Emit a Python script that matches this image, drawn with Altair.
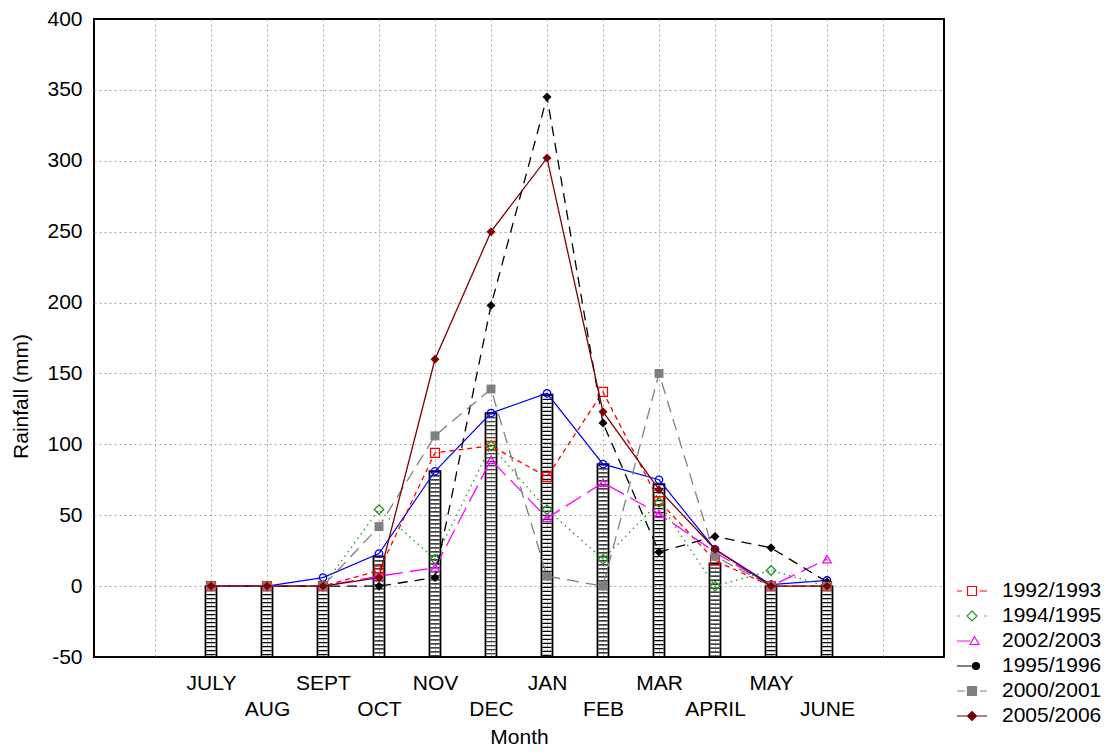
import altair as alt
import pandas as pd

# ---- data ----
months = ["JULY", "AUG", "SEPT", "OCT", "NOV", "DEC", "JAN", "FEB", "MAR", "APRIL", "MAY", "JUNE"]
bar_rain = [0, 0, 0, 21, 81, 122, 135, 86, 72, 16, 0, 0]
mean_rain = [0, 0, 6, 23, 81, 122, 136, 86, 75, 26, 1, 4]
rain_1992_1993 = [0, 0, 0, 11, 94, 99, 77, 137, 60, 18, 0, 0]
rain_1994_1995 = [0, 0, 0, 54, 19, 99, 54, 19, 59, 0, 11, 0]
rain_2002_2003 = [0, 0, 0, 7, 13, 89, 48, 73, 51, 24, 0, 19]
rain_1995_1996 = [0, 0, 0, 0, 6, 198, 345, 115, 24, 35, 27, 3]
rain_2000_2001 = [0, 0, 0, 42, 106, 139, 7, 0, 150, 21, 0, 0]
rain_2005_2006 = [0, 0, 0, 6, 160, 250, 302, 123, 68, 26, 0, 0]
seasons = ["1992/1993", "1994/1995", "2002/2003", "1995/1996", "2000/2001", "2005/2006"]
season_values = [rain_1992_1993, rain_1994_1995, rain_2002_2003,
                 rain_1995_1996, rain_2000_2001, rain_2005_2006]

# ---- styles ----
FONT = "Liberation Sans"
colors = ["#ff0000", "#1a9a1a", "#ff00ff", "#000000", "#808080", "#800000"]
dashes = [[5, 4], [1.5, 4], [18, 7], [10, 7], [12, 7], None]
shapes = ["square", "diamond", "triangle-up", "diamond", "square", "diamond"]
filled = [False, False, False, True, True, True]
sizes = [80, 90, 70, 80, 80, 80]
legend_paths = [
    "M-1.5,0H-1.0M0.8,0H1.5M-0.45,-0.45H0.45V0.45H-0.45Z",
    "M-1.45,0H-1.25M1.25,0H1.45M0,-0.5L0.5,0L0,0.5L-0.5,0Z",
    "M-1.5,0H-0.2M0.25,-0.45L0.7,0.35L-0.2,0.35Z",
    "M-1.5,0H0.05M0.75,0A0.35,0.35,0,1,1,0.05,0A0.35,0.35,0,1,1,0.75,0Z",
    "M-1.5,0H-0.7M0.8,0H1.5M-0.45,-0.45H0.45V0.45H-0.45Z",
    "M-1.5,0H1.5M0,-0.45L0.45,0L0,0.45L-0.45,0Z",
]
legend_fills = ["transparent", "transparent", "transparent", "#000000", "#808080", "#800000"]

positions = list(range(2, 2 + len(months)))
bar_df = pd.DataFrame({"month": months, "pos": positions, "rain": bar_rain})
mean_df = pd.DataFrame({"month": months, "pos": positions, "rain": mean_rain})
rows = []
for s, vals in zip(seasons, season_values):
    for m, p, v in zip(months, positions, vals):
        rows.append({"season": s, "month": m, "pos": p, "rain": v})
season_df = pd.DataFrame(rows)
legend_df = pd.DataFrame({"season": seasons})

label_list = ["", ""] + months + ["", ""]
arr = "[" + ",".join("'" + m + "'" for m in label_list) + "]"
label_expr = f"datum.value % 2 == 0 ? {arr}[datum.value] : [' ', {arr}[datum.value]]"

grid_kw = dict(grid=True, gridDash=[2, 3], gridColor="#a9a9a9", gridWidth=1)

x_axis = alt.Axis(values=list(range(1, 15)), labelExpr=label_expr, labelOverlap=False,
                  labelFlush=False, labelFont=FONT, labelFontSize=21, labelColor="black",
                  labelLineHeight=26, labelPadding=15, ticks=False, tickSize=0, domain=False,
                  title="Month", titleFont=FONT, titleFontSize=21, titleFontWeight="normal",
                  titleColor="black", titleY=69, titleBaseline="top", **grid_kw)
y_axis = alt.Axis(values=list(range(-50, 401, 50)), labelExpr="toString(datum.value)",
                  labelFont=FONT, labelFontSize=21,
                  labelColor="black", labelPadding=12, ticks=False, tickSize=0, domain=False,
                  title="Rainfall (mm)", titleFont=FONT, titleFontSize=21,
                  titleFontWeight="normal", titleColor="black", titleX=-63, titleY=377,
                  titleAngle=270, titleBaseline="bottom", titleAlign="center",
                  gridOpacity={"condition": {"test": "datum.value == -50 || datum.value == 400",
                                             "value": 0}, "value": 1},
                  **grid_kw)

X = alt.X("pos:Q", scale=alt.Scale(domain=[0, 15], nice=False, zero=False), axis=x_axis)
Y = alt.Y("rain:Q", scale=alt.Scale(domain=[-50, 400], nice=False), axis=y_axis)

hatch = alt.Chart(bar_df).mark_rule(color="black", strokeWidth=9, strokeDash=[1.2, 2.8]).encode(
    x=X, y=Y, y2=alt.datum(-50))
bars = alt.Chart(bar_df).mark_bar(width=11, fillOpacity=0, stroke="black", strokeWidth=1.8).encode(
    x=X, y=Y, y2=alt.datum(-50))

mean_line = alt.Chart(mean_df).mark_line(color="#0000ff", strokeWidth=1.2).encode(x=X, y=Y)
mean_pts = alt.Chart(mean_df).mark_point(shape="circle", color="#0000ff", size=55,
                                         strokeWidth=1.3, filled=False, opacity=1).encode(x=X, y=Y)

layers = [hatch, bars, mean_line, mean_pts]
for i, s in enumerate(seasons):
    line_kw = dict(color=colors[i], strokeWidth=1.3)
    if dashes[i] is not None:
        line_kw["strokeDash"] = dashes[i]
    base = alt.Chart(season_df).transform_filter(alt.datum.season == s)
    layers.append(base.mark_line(**line_kw).encode(x=X, y=Y))
    layers.append(base.mark_point(shape=shapes[i], color=colors[i], size=sizes[i],
                                  strokeWidth=1.3, filled=filled[i], opacity=1).encode(x=X, y=Y))

leg = alt.Legend(title=None, orient="none", legendX=867, legendY=561, symbolSize=400,
                 symbolStrokeWidth=1.2, labelFont=FONT, labelFontSize=21, labelColor="black",
                 labelOffset=19, rowPadding=4, padding=0, symbolOpacity=1)
legend_layer = alt.Chart(legend_df).mark_point(size=400, strokeWidth=1.2, filled=False,
                                              opacity=1).encode(
    shape=alt.Shape("season:N", scale=alt.Scale(domain=seasons, range=legend_paths), legend=leg),
    stroke=alt.Stroke("season:N", scale=alt.Scale(domain=seasons, range=colors), legend=leg),
    fill=alt.Fill("season:N", scale=alt.Scale(domain=seasons, range=legend_fills), legend=leg),
).transform_filter("false")
layers.append(legend_layer)

chart = alt.layer(*layers).properties(
    width=850, height=638,
    autosize=alt.AutoSizeParams(type="none"),
    padding={"left": 86, "top": 11, "right": 159, "bottom": 91},
).configure(font=FONT).configure_view(stroke="black", strokeWidth=2)

chart.save("out.html", embed_options={"renderer": "svg", "actions": False})
